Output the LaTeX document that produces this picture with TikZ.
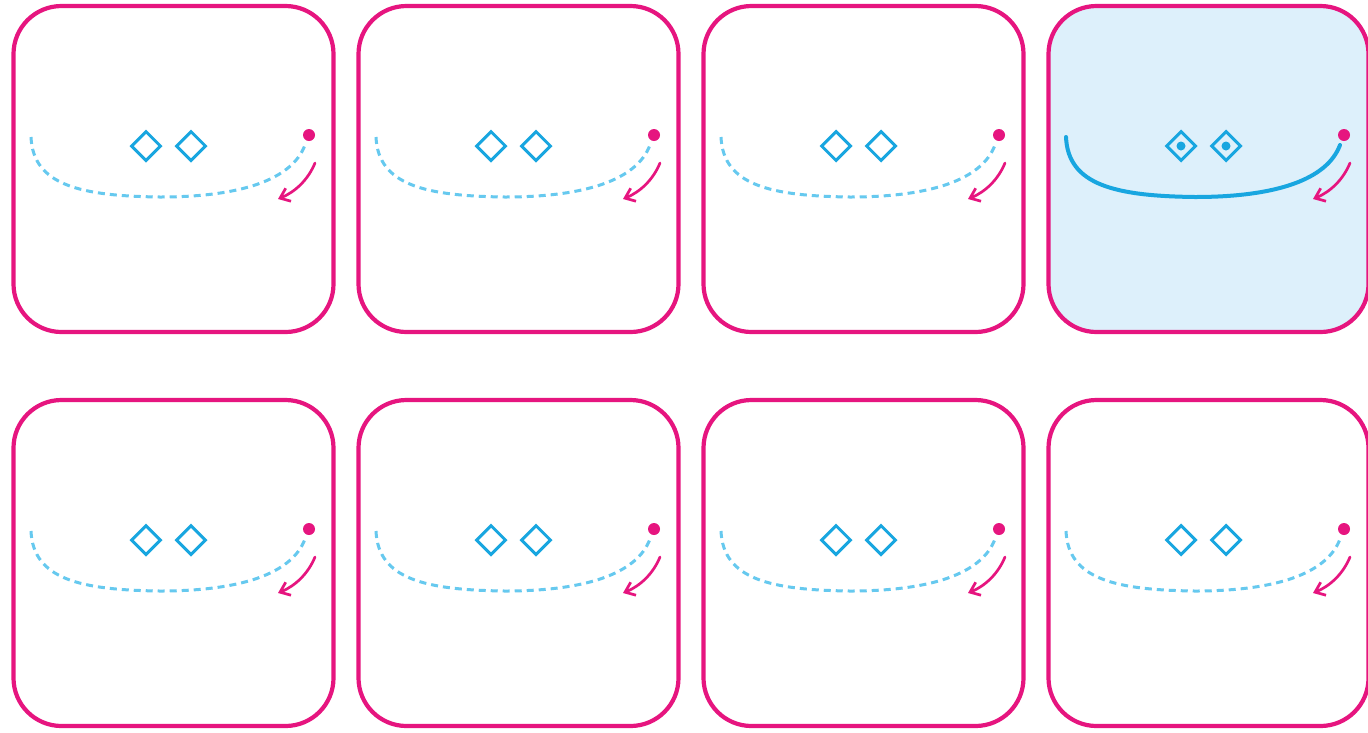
\documentclass[tikz,border=0pt]{standalone}
\usetikzlibrary{arrows.meta,shapes.geometric}
\definecolor{mag}{HTML}{E6157F}
\definecolor{lblue}{HTML}{66C9EF}
\definecolor{dblue}{HTML}{18A6E0}
\definecolor{pale}{HTML}{DDF0FB}
\begin{document}
\begin{tikzpicture}[x=1pt,y=-1pt,
  card/.style={draw=mag, line width=4.2pt, rounded corners=48pt, minimum width=320pt, minimum height=326pt, inner sep=0pt},
  gem/.style={diamond, draw=dblue, line width=3pt, minimum size=30pt, inner sep=0pt},
  spot/.style={circle, fill=mag, minimum size=12pt, inner sep=0pt},
  dashcurve/.style={draw=lblue, line width=3pt, dash pattern=on 7pt off 5pt},
  solidcurve/.style={draw=dblue, line width=4pt, line cap=round},
  turn/.style={draw=mag, line width=2.7pt, line cap=round, -{Straight Barb[length=9pt,width=14pt,line width=2.7pt]}}]
\useasboundingbox (0,0) rectangle (1368,732);
\foreach \r in {0,1}{
 \foreach \c in {0,...,3}{
  \pgfmathtruncatemacro{\k}{\r*4+\c+1}
  \ifnum\k=4 \def\cardfill{pale}\def\curvestyle{solidcurve}\else \def\cardfill{white}\def\curvestyle{dashcurve}\fi
  \begin{scope}[shift={(345*\c,394*\r)}]
   \node[card, fill=\cardfill] (card\k) at (173.5,169) {};
   \node[gem] (gemA\k) at (146,146) {};
   \node[gem] (gemB\k) at (191,146) {};
   \node[spot] (spot\k) at (309,135) {};
   \coordinate (start\k) at (31,137);
   \coordinate (low\k) at (160,197);
   \coordinate (end\k) at (305,145);
   \draw[\curvestyle] (start\k) .. controls (33,185) and (80,196) .. (low\k) .. controls (240,197) and (292,180) .. (end\k);
   \coordinate (from\k) at (315,163);
   \coordinate (to\k) at (278,199);
   \draw[turn] (from\k) .. controls (308,180) and (295,192) .. (to\k);
   \ifnum\k=4
    \fill[dblue] (gemA\k.center) circle (4.5);
    \fill[dblue] (gemB\k.center) circle (4.5);
   \fi
  \end{scope}
 }
}
\end{tikzpicture}
\end{document}
